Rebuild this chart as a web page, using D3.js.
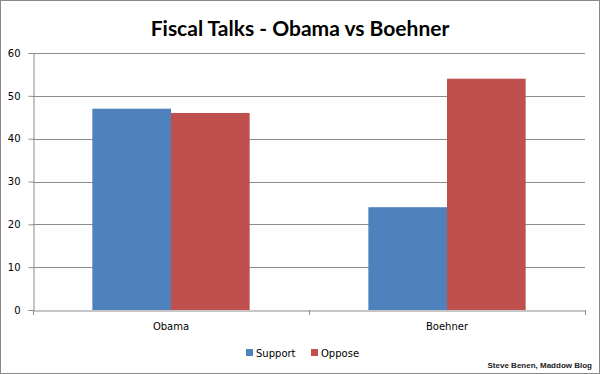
<!DOCTYPE html>
<html><head><meta charset="utf-8">
<script src="https://cdn.jsdelivr.net/npm/d3@7"></script>
<style>body{margin:0;background:#fff}svg{display:block}</style>
</head><body>
<script>
const categories = ["Obama", "Boehner"];
const seriesNames = ["Support", "Oppose"];
const supportValues = [47, 24];
const opposeValues = [46, 54];
const yTicks = [0, 10, 20, 30, 40, 50, 60];
const colors = ["#4F81BD", "#C0504D"];
const titleText = "Fiscal Talks - Obama vs Boehner";
const creditText = "Steve Benen, Maddow Blog";

const W = 600, H = 374;
const svg = d3.select("body").append("svg").attr("width", W).attr("height", H);
svg.append("rect").attr("x", 0.5).attr("y", 0.5).attr("width", W - 1).attr("height", H - 1)
  .attr("fill", "#fff").attr("stroke", "#888");

const pLeft = 33, pRight = 585, pTop = 53, pBottom = 310;
const x = d3.scaleBand().domain(categories).range([pLeft, pRight]).paddingInner(0).paddingOuter(0);
const y = d3.scaleLinear().domain([0, 60]).range([pBottom, pTop]);
const groupW = x.bandwidth() * 0.57;
const x1 = d3.scaleBand().domain(seriesNames).range([0, groupW]).padding(0);

// gridlines
svg.append("g").selectAll("line").data(yTicks.filter(d => d > 0)).join("line")
  .attr("x1", pLeft).attr("x2", pRight)
  .attr("y1", d => Math.round(y(d)) + 0.5).attr("y2", d => Math.round(y(d)) + 0.5)
  .attr("stroke", "#8c8c8c").attr("stroke-width", 1);

// bars
const data = categories.map((c, i) => ({cat: c, vals: [supportValues[i], opposeValues[i]]}));
const g = svg.append("g");
data.forEach(d => {
  const gx = x(d.cat) + (x.bandwidth() - groupW) / 2;
  d.vals.forEach((v, j) => {
    g.append("rect")
      .attr("x", gx + x1(seriesNames[j]))
      .attr("y", y(v))
      .attr("width", x1.bandwidth())
      .attr("height", y(0) - y(v))
      .attr("fill", colors[j]);
  });
});

// y axis
const yAxis = d3.axisLeft(y).tickValues(yTicks).tickSize(5).tickPadding(8);
const ya = svg.append("g").attr("transform", `translate(${pLeft + 0.5},0)`).call(yAxis);
ya.select(".domain").attr("stroke", "#8c8c8c");
ya.selectAll(".tick line").attr("stroke", "#8c8c8c");
ya.selectAll(".tick text").attr("font-family", "DejaVu Sans, Verdana, sans-serif").attr("font-size", 10).attr("fill", "#000");

// x axis
const xa = svg.append("g").attr("transform", `translate(0,${pBottom + 0.5})`)
  .call(d3.axisBottom(x).tickSize(0).tickPadding(12));
xa.select(".domain").attr("stroke", "#8c8c8c");
xa.selectAll(".tick text").attr("font-family", "DejaVu Sans, Verdana, sans-serif").attr("font-size", 10).attr("fill", "#000");
const bounds = [pLeft, pLeft + x.bandwidth(), pRight];
svg.append("g").selectAll("line").data(bounds).join("line")
  .attr("x1", d => Math.round(d) + 0.5).attr("x2", d => Math.round(d) + 0.5)
  .attr("y1", pBottom).attr("y2", pBottom + 5).attr("stroke", "#8c8c8c");

// title
svg.append("text").attr("x", 300).attr("y", 36).attr("text-anchor", "middle")
  .attr("font-family", "Lato, 'Open Sans', sans-serif").attr("font-weight", "bold")
  .attr("font-size", 21).attr("fill", "#000").text(titleText);

// legend
const leg = svg.append("g");
const legX = [246, 311];
seriesNames.forEach((s, i) => {
  leg.append("rect").attr("x", legX[i]).attr("y", 349).attr("width", 7).attr("height", 7).attr("fill", colors[i]);
  leg.append("text").attr("x", legX[i] + 10).attr("y", 357)
    .attr("font-family", "DejaVu Sans, Verdana, sans-serif").attr("font-size", 10).attr("fill", "#000").text(s);
});

// credit
svg.append("text").attr("x", 592).attr("y", 368).attr("text-anchor", "end")
  .attr("font-family", "Liberation Sans, Arial, sans-serif").attr("font-weight", "bold")
  .attr("font-size", 8).attr("fill", "#222").text(creditText);
</script>
</body></html>
